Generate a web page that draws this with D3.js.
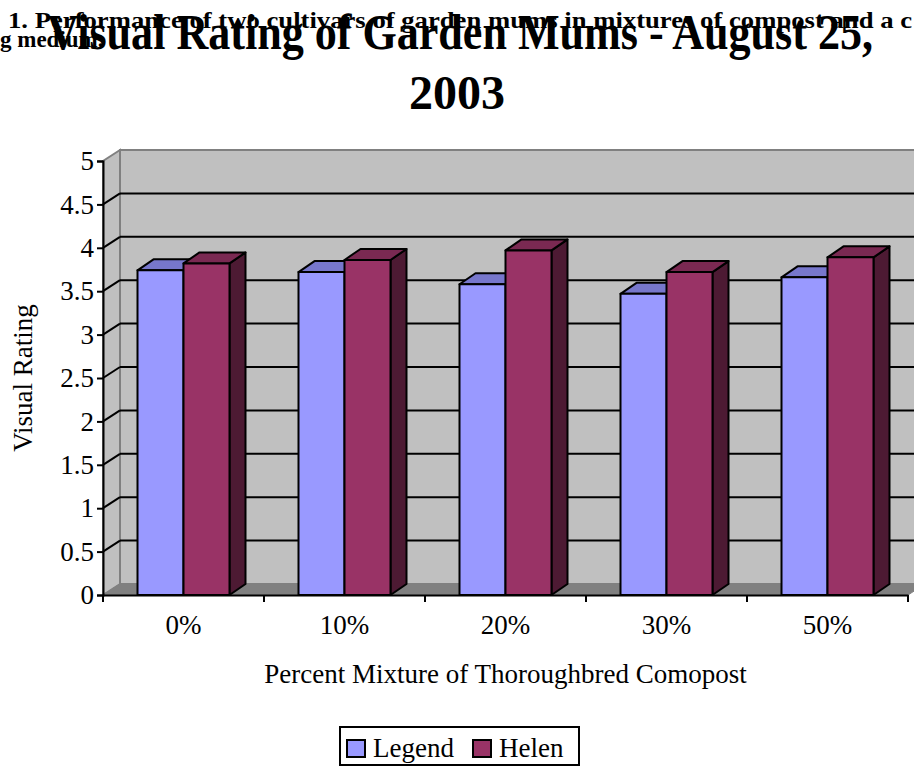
<!DOCTYPE html>
<html>
<head>
<meta charset="utf-8">
<script src="https://cdn.jsdelivr.net/npm/d3@7"></script>
<style>
  body { margin: 0; background: #fff; }
  svg { display: block; }
</style>
</head>
<body>
<div id="container"></div>
<script>
/* DATA */
const categories = ["0%", "10%", "20%", "30%", "50%"];
const seriesNames = ["Legend", "Helen"];
const legendValues = [3.74, 3.72, 3.58, 3.47, 3.66];
const helenValues = [3.82, 3.86, 3.97, 3.72, 3.89];
const yTicks = [0, 0.5, 1, 1.5, 2, 2.5, 3, 3.5, 4, 4.5, 5];

/* CONSTANTS */
const width = 914, height = 773;
const margin = { top: 161, bottom: 178, left: 103, right: 6 };
const depth = { dx: 17, dy: -11 };
const serif = "'Liberation Serif', 'Times New Roman', serif";
const colors = {
  Legend: { front: "#9999ff", top: "#7777cc", side: "#5c5c99" },
  Helen: { front: "#993366", top: "#7a2952", side: "#4d1a33" }
};

const svg = d3.select("#container")
  .append("svg")
  .attr("width", width)
  .attr("height", height);

// SCALES
const x = d3.scaleBand()
  .domain(categories)
  .range([margin.left, width - margin.right])
  .padding(0);

const y = d3.scaleLinear()
  .domain([0, 5])
  .range([height - margin.bottom, margin.top]);

const bw = x.bandwidth();
const barW = bw * 0.2857;
const xInner = d3.scaleBand()
  .domain(seriesNames)
  .range([bw / 2 - barW, bw / 2 + barW]);

const x0 = margin.left, x1 = width - margin.right;
const y0 = y(0), y5 = y(5);
const dx = depth.dx, dy = depth.dy;

// WALLS
svg.append("polygon")   // back wall
  .attr("points", [[x0 + dx, y5 + dy], [x1 + dx, y5 + dy], [x1 + dx, y0 + dy], [x0 + dx, y0 + dy]].join(" "))
  .attr("fill", "#c0c0c0")
  .attr("stroke", "#808080")
  .attr("stroke-width", 2);

svg.append("polygon")   // side wall
  .attr("points", [[x0, y0], [x0 + dx, y0 + dy], [x0 + dx, y5 + dy], [x0, y5]].join(" "))
  .attr("fill", "#c0c0c0")
  .attr("stroke", "#808080")
  .attr("stroke-width", 2);

svg.append("polygon")   // floor
  .attr("points", [[x0, y0], [x0 + dx, y0 + dy], [x1 + dx, y0 + dy], [x1, y0]].join(" "))
  .attr("fill", "#808080")
  .attr("stroke", "#808080")
  .attr("stroke-width", 1);

// GRIDLINES
const grid = yTicks.filter(d => d > 0 && d < 5);
svg.append("g")
  .selectAll("line")
  .data(grid)
  .join("line")
  .attr("x1", x0 + dx).attr("x2", x1 + dx)
  .attr("y1", d => y(d) + dy).attr("y2", d => y(d) + dy)
  .attr("stroke", "#000").attr("stroke-width", 2);

svg.append("g")
  .selectAll("line")
  .data(grid)
  .join("line")
  .attr("x1", x0).attr("x2", x0 + dx)
  .attr("y1", d => y(d)).attr("y2", d => y(d) + dy)
  .attr("stroke", "#000").attr("stroke-width", 2);

// BARS
const barData = [];
categories.forEach((c, i) => {
  barData.push({ cat: c, series: "Legend", value: legendValues[i] });
  barData.push({ cat: c, series: "Helen", value: helenValues[i] });
});

const bars = svg.append("g")
  .selectAll("g")
  .data(barData)
  .join("g");

bars.each(function(d) {
  const g = d3.select(this);
  const left = x(d.cat) + xInner(d.series);
  const right = left + xInner.bandwidth();
  const top = y(d.value);
  const col = colors[d.series];
  g.append("polygon")
    .attr("points", [[right, y0], [right + dx - 1, y0 + dy], [right + dx - 1, top + dy], [right, top]].join(" "))
    .attr("fill", col.side);
  g.append("polygon")
    .attr("points", [[left, top], [left + dx - 1, top + dy], [right + dx - 1, top + dy], [right, top]].join(" "))
    .attr("fill", col.top);
  g.append("rect")
    .attr("x", left).attr("y", top)
    .attr("width", right - left).attr("height", y0 - top)
    .attr("fill", col.front);
  g.selectAll("polygon, rect")
    .attr("stroke", "#000")
    .attr("stroke-width", 2)
    .attr("stroke-linejoin", "round");
});

// AXES
const yAxis = d3.axisLeft(y)
  .tickValues(yTicks)
  .tickFormat(d => String(d))
  .tickSizeOuter(0)
  .tickSize(6)
  .tickPadding(3);

svg.append("g")
  .attr("transform", `translate(${x0},0)`)
  .call(yAxis)
  .call(g => g.selectAll("line, path").attr("stroke", "#000").attr("stroke-width", 2))
  .call(g => g.selectAll("text").attr("font-family", serif).attr("font-size", 27).attr("fill", "#000"));

const xAxis = d3.axisBottom(x)
  .tickSize(0)
  .tickSizeOuter(0)
  .tickPadding(16);

svg.append("g")
  .attr("transform", `translate(0,${y0})`)
  .call(xAxis)
  .call(g => g.select(".domain").attr("stroke", "#000").attr("stroke-width", 2))
  .call(g => g.selectAll("text").attr("font-family", serif).attr("font-size", 27).attr("fill", "#000").attr("dy", "0.85em"));

svg.append("g")
  .selectAll("line")
  .data(categories.map(c => x(c)).concat([x1]))
  .join("line")
  .attr("x1", d => d).attr("x2", d => d)
  .attr("y1", y0).attr("y2", y0 + 7)
  .attr("stroke", "#000").attr("stroke-width", 2);

// AXIS TITLES
svg.append("text")
  .attr("x", (x0 + x1) / 2).attr("y", 683)
  .attr("text-anchor", "middle")
  .attr("font-family", serif).attr("font-size", 27)
  .text("Percent Mixture of Thoroughbred Comopost");

svg.append("text")
  .attr("transform", `translate(32,378) rotate(-90)`)
  .attr("text-anchor", "middle")
  .attr("font-family", serif).attr("font-size", 27)
  .text("Visual Rating");

// CAPTION + TITLE
svg.append("text")
  .attr("x", 8).attr("y", 28)
  .attr("font-family", serif).attr("font-size", 23).attr("font-weight", "bold")
  .attr("textLength", 904).attr("lengthAdjust", "spacingAndGlyphs")
  .text("1.  Performance of two cultivars of garden mums in mixtures of compost and a c");

svg.append("text")
  .attr("x", 0).attr("y", 47)
  .attr("font-family", serif).attr("font-size", 23).attr("font-weight", "bold")
  .text("g medium.");

svg.append("text")
  .attr("x", 47).attr("y", 49)
  .attr("font-family", serif).attr("font-size", 50).attr("font-weight", "bold")
  .attr("textLength", 826).attr("lengthAdjust", "spacingAndGlyphs")
  .text("Visual Rating of Garden Mums - August 25,");

svg.append("text")
  .attr("x", 457).attr("y", 109)
  .attr("text-anchor", "middle")
  .attr("font-family", serif).attr("font-size", 48).attr("font-weight", "bold")
  .text("2003");

// LEGEND
const legend = svg.append("g").attr("transform", "translate(340,727)");
legend.append("rect")
  .attr("width", 239).attr("height", 38)
  .attr("fill", "#fff").attr("stroke", "#000").attr("stroke-width", 2);

const items = legend.selectAll("g")
  .data(seriesNames)
  .join("g")
  .attr("transform", (d, i) => `translate(${i === 0 ? 7 : 133},0)`);

items.append("rect")
  .attr("x", 0).attr("y", 13)
  .attr("width", 18).attr("height", 17)
  .attr("fill", d => colors[d].front)
  .attr("stroke", "#000").attr("stroke-width", 2);

items.append("text")
  .attr("x", 26).attr("y", 30)
  .attr("font-family", serif).attr("font-size", 27)
  .text(d => d);
</script>
</body>
</html>
